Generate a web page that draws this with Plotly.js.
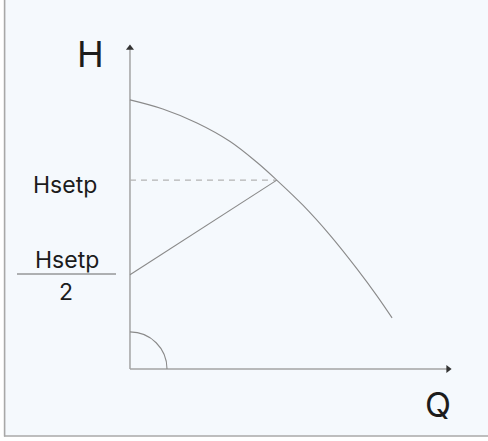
<!DOCTYPE html>
<html>
<head>
<meta charset="utf-8">
<script src="https://cdn.plot.ly/plotly-3.0.1.min.js"></script>
<style>
  html, body { margin: 0; padding: 0; background: #ffffff; }
  #chart { width: 488px; height: 441px; }
</style>
</head>
<body>
<div id="chart"></div>
<script>
// ---- data (in chart units) ----
const curveQ = [0, 1.02, 2.08, 3.11, 3.94, 4.56, 5.37, 6.21, 7.05, 7.67, 8.14];
const curveH = [8.28, 8.0, 7.57, 7.0, 6.36, 5.81, 5.04, 4.12, 3.08, 2.25, 1.57];
const setpointQ = 4.56;
const hsetp = 5.81;
const halfHsetp = 2.9;
const controlQ = [0, setpointQ];
const controlH = [halfHsetp, hsetp];
const dashQ = [0, setpointQ];
const dashH = [hsetp, hsetp];
const axisEnd = 9.88;
const arcR = [1.15, 1.14];
const labelTexts = ["H", "Q", "Hsetp", "Hsetp", "2"];

// ---- layout geometry ----
const L = 120, R = 36, T = 44, B = 62, W = 488, Hh = 441;
const PW = W - L - R, PH = Hh - T - B;
const xp = px => (px - L) / PW;
const yp = py => (Hh - B - py) / PH;

const lineGray = '#8a8a8a';
const axisGray = '#a3a3a3';
const txt = '#1c1c1c';
const font = 'Inter, "Noto Sans", sans-serif';

const traces = [
  { x: [0, axisEnd], y: [0, 0], mode: 'lines', line: { color: axisGray, width: 1.5 }, cliponaxis: false, hoverinfo: 'skip' },
  { x: [0, 0], y: [0, axisEnd], mode: 'lines', line: { color: axisGray, width: 1.5 }, cliponaxis: false, hoverinfo: 'skip' },
  { x: curveQ, y: curveH, mode: 'lines', line: { color: lineGray, width: 1.1, shape: 'spline', smoothing: 1 }, hoverinfo: 'skip' },
  { x: dashQ, y: dashH, mode: 'lines', line: { color: '#b3b3b3', width: 1.3, dash: '6px,5px' }, hoverinfo: 'skip' },
  { x: controlQ, y: controlH, mode: 'lines', line: { color: lineGray, width: 1.1 }, hoverinfo: 'skip' },
  { x: [axisEnd], y: [0], mode: 'markers', marker: { symbol: 'triangle-right', size: 7, color: '#333' }, cliponaxis: false, hoverinfo: 'skip' },
  { x: [0], y: [axisEnd], mode: 'markers', marker: { symbol: 'triangle-up', size: 7, color: '#333' }, cliponaxis: false, hoverinfo: 'skip' }
];

const k = 0.5523;
const arcPath = `M ${arcR[0]},0 C ${arcR[0]},${k*arcR[1]} ${k*arcR[0]},${arcR[1]} 0,${arcR[1]}`;

const layout = {
  width: W, height: Hh,
  margin: { l: L, r: R, t: T, b: B, pad: 0 },
  paper_bgcolor: '#ffffff',
  plot_bgcolor: 'rgba(0,0,0,0)',
  showlegend: false,
  xaxis: { range: [-0.31, 10], visible: false, fixedrange: true },
  yaxis: { range: [-0.31, 10], visible: false, fixedrange: true },
  shapes: [
    { type: 'rect', xref: 'paper', yref: 'paper', x0: xp(5), x1: xp(495), y0: yp(-5), y1: yp(435.5),
      fillcolor: '#f5f9fd', line: { width: 0 }, layer: 'below' },
    { type: 'line', xref: 'paper', yref: 'paper', x0: xp(4.6), x1: xp(4.6), y0: yp(-5), y1: yp(436.5),
      line: { color: '#a8a8a8', width: 1.6 }, layer: 'below' },
    { type: 'line', xref: 'paper', yref: 'paper', x0: xp(4), x1: xp(495), y0: yp(436), y1: yp(436),
      line: { color: '#a8a8a8', width: 1.6 }, layer: 'below' },
    { type: 'path', xref: 'x', yref: 'y', path: arcPath, line: { color: lineGray, width: 1.1 } },
    { type: 'line', xref: 'paper', yref: 'paper', x0: xp(17), x1: xp(116), y0: yp(274), y1: yp(274),
      line: { color: '#666666', width: 1 } }
  ],
  annotations: [
    { text: labelTexts[0], xref: 'paper', yref: 'paper', x: xp(90), y: yp(54), xanchor: 'center', yanchor: 'middle',
      showarrow: false, font: { family: font, size: 36, color: txt } },
    { text: labelTexts[1], xref: 'paper', yref: 'paper', x: xp(438), y: yp(405), xanchor: 'center', yanchor: 'middle',
      showarrow: false, font: { family: font, size: 34, color: txt } },
    { text: labelTexts[2], xref: 'paper', yref: 'paper', x: xp(65), y: yp(185), xanchor: 'center', yanchor: 'middle',
      showarrow: false, font: { family: font, size: 23, color: txt } },
    { text: labelTexts[3], xref: 'paper', yref: 'paper', x: xp(67), y: yp(260), xanchor: 'center', yanchor: 'middle',
      showarrow: false, font: { family: font, size: 23, color: txt } },
    { text: labelTexts[4], xref: 'paper', yref: 'paper', x: xp(66), y: yp(292), xanchor: 'center', yanchor: 'middle',
      showarrow: false, font: { family: font, size: 23, color: txt } }
  ]
};

Plotly.newPlot('chart', traces, layout, { staticPlot: true, displayModeBar: false });
</script>
</body>
</html>
